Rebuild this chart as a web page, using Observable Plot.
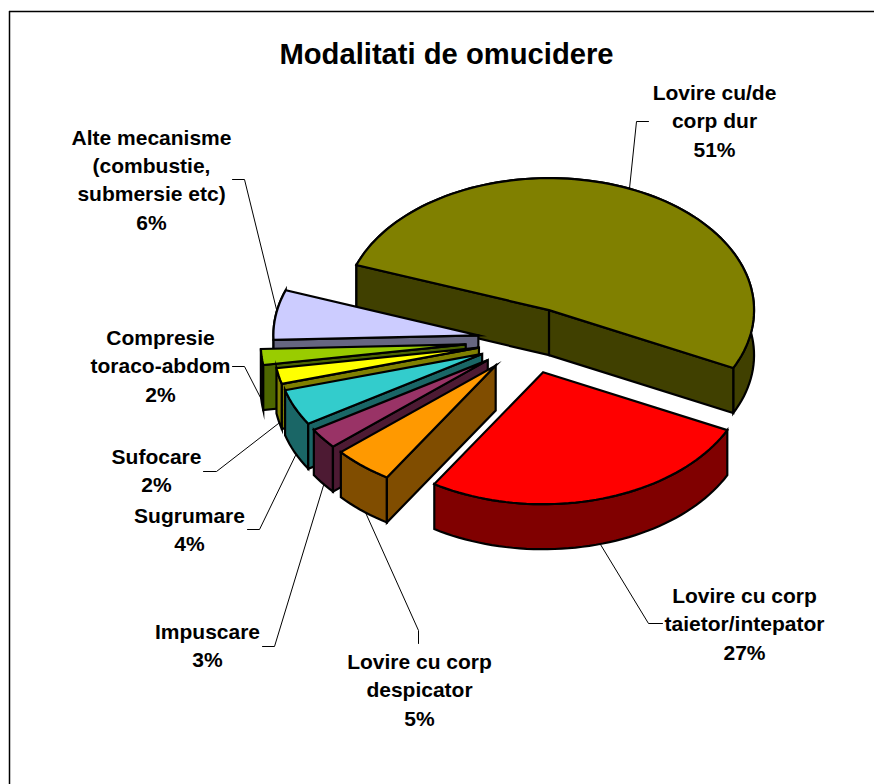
<!DOCTYPE html>
<html>
<head>
<meta charset="utf-8">
<style>html,body{margin:0;padding:0;background:#fff}svg{display:block}</style>
<script src="https://cdn.jsdelivr.net/npm/d3@7"></script>
<script src="https://cdn.jsdelivr.net/npm/@observablehq/plot@0.6"></script>
</head>
<body>
<script>
// Data
const categories = ["Lovire cu/de\ncorp dur","Lovire cu corp\ntaietor/intepator","Lovire cu corp\ndespicator","Impuscare","Sugrumare","Sufocare","Compresie\ntoraco-abdom","Alte mecanisme\n(combustie,\nsubmersie etc)"];
const percentLabels = ["51%","27%","5%","3%","4%","2%","2%","6%"];
const shares = [51.67,26.67,4.72,2.5,4.44,1.94,1.94,6.11];
const topColors = ["#808000","#ff0000","#ff9900","#993366","#33cccc","#ffff00","#99cc00","#ccccff"];
const sideColors = ["#404000","#800000","#804d00","#4d1a33","#1a6666","#808000","#4d6600","#666680"];
const explosion = [0.25,0.25,0.25,0.25,0.25,0.25,0.31,0.25];

// Layout of the 3D pie
const cx = 528.5, cy = 340, rx = 205, ry = 132, depth = 45, startDeg = -70;
const drawOrder = [0,1,7,6,5,4,3,2];
const labelX = [714,744,419,207,189,156,160,151];
const labelY = [121,624,690,646,530,471,366,180];
const leaders = [
  [[648,121],[636,121],[629,188]],
  [[662,623],[648,623],[600,544]],
  [[418,643],[418,630],[365,512]],
  [[262,646],[274,646],[323,485]],
  [[247,529],[259,529],[295,455]],
  [[203,471],[216,471],[278,423]],
  [[232,366],[244,366],[263,403]],
  [[232,179],[244,179],[277,313]]
];

const rad = Math.PI / 180;
const total = d3.sum(shares);
let cum = startDeg;
const slices = shares.map((v, i) => {
  const s = cum, e = cum + v / total * 360; cum = e;
  const m = (s + e) / 2;
  return {i, s, e,
    ax: cx + explosion[i] * rx * Math.sin(m * rad),
    ay: cy - explosion[i] * ry * Math.cos(m * rad)};
});
const rimPt = (sl, t, dz = 0) => [sl.ax + rx * Math.sin(t * rad), sl.ay - ry * Math.cos(t * rad) + dz];
const arc = (sl, dz = 0) => {
  const n = Math.max(4, Math.ceil((sl.e - sl.s) / 2));
  return d3.range(n + 1).map(k => rimPt(sl, sl.s + (sl.e - sl.s) * k / n, dz));
};

const polys = [];
const addPoly = (key, fill, pts) => pts.forEach(p => polys.push({key, fill, x: p[0], y: p[1]}));
for (const i of drawOrder) {
  const sl = slices[i];
  addPoly(`r${i}`, sideColors[i], [...arc(sl), ...arc(sl, depth).reverse()]);
  const walls = [];
  if (Math.sin(sl.s * rad) < 0) walls.push(sl.s);
  if (Math.sin(sl.e * rad) > 0) walls.push(sl.e);
  walls.forEach((t, k) => {
    const q = rimPt(sl, t);
    addPoly(`w${i}-${k}`, sideColors[i], [[sl.ax, sl.ay], q, [q[0], q[1] + depth], [sl.ax, sl.ay + depth]]);
  });
  addPoly(`t${i}`, topColors[i], [[sl.ax, sl.ay], ...arc(sl)]);
}

const leaderRows = leaders.flatMap((l, i) => l.map(p => ({i, x: p[0], y: p[1]})));
const labelRows = categories.map((c, i) => ({text: c + "\n" + percentLabels[i], x: labelX[i], y: labelY[i]}));

const font = "'Liberation Sans', Arial, sans-serif";
const chart = Plot.plot({
  width: 874, height: 784,
  margin: 0,
  x: {domain: [0, 874], range: [0, 874], axis: null},
  y: {domain: [0, 784], range: [0, 784], axis: null},
  color: {type: "identity"},
  style: {background: "#fff"},
  marks: [
    Plot.ruleY([11], {x1: 9, x2: 874, stroke: "#000", strokeWidth: 1.5}),
    Plot.ruleX([9], {y1: 11, y2: 784, stroke: "#000", strokeWidth: 1.5}),
    Plot.line(leaderRows, {x: "x", y: "y", z: "i", stroke: "#000", strokeWidth: 1}),
    Plot.line(polys, {x: "x", y: "y", z: "key", fill: "fill", stroke: "#000", strokeWidth: 2.2,
      curve: "linear-closed", strokeLinejoin: "miter", strokeMiterlimit: 10}),
    Plot.text(["Modalitati de omucidere"], {x: [446], y: [54], text: d => d, fontFamily: font, fontWeight: "bold", fontSize: 29.2, fill: "#000"}),
    Plot.text(labelRows, {x: "x", y: "y", text: "text", dy: -2, fontFamily: font, fontWeight: "bold", fontSize: 21, lineHeight: 1.335, fill: "#000"})
  ]
});
document.body.appendChild(chart);
</script>
</body>
</html>
